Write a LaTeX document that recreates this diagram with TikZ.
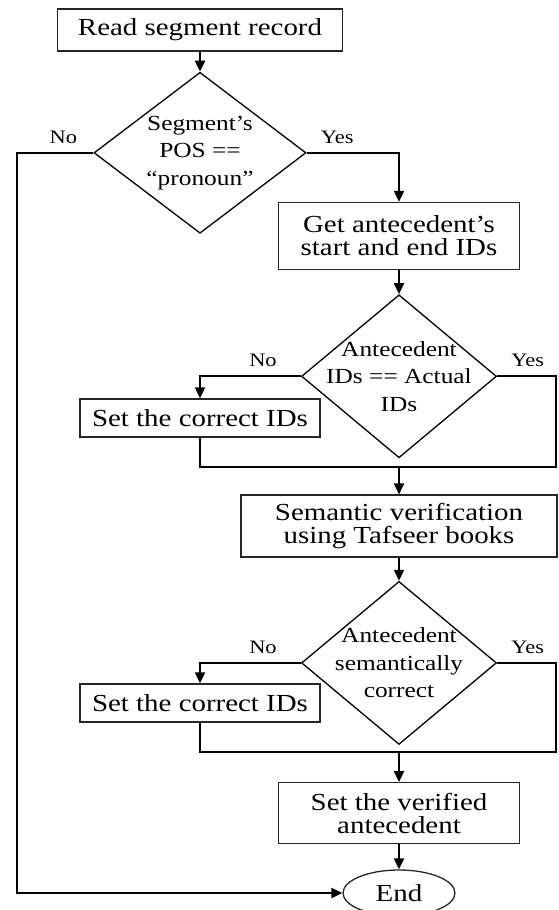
\documentclass[tikz,border=0pt]{standalone}
\usepackage{fontspec}
\setmainfont{Liberation Serif}
\newfontfamily\flowfont[FakeStretch=1.18]{Liberation Serif}
\usetikzlibrary{positioning}
\usetikzlibrary{shapes.geometric}
\usetikzlibrary{arrows.meta}

\begin{document}
\begin{tikzpicture}[x=1pt,y=1pt,align=center,
  cnode/.style={rectangle,draw=black!85,line width=1.3pt,inner sep=0pt,font=\flowfont\fontsize{24.5}{23}\selectfont},
  dnode/.style={diamond,draw=black,line width=1.3pt,inner sep=-12pt,shape aspect=1.2,minimum width=195pt,minimum height=163pt,font=\flowfont\fontsize{21.5}{27.5}\selectfont},
  enode/.style={ellipse,draw=black!85,line width=1.3pt,inner sep=0pt,minimum width=112pt,minimum height=46pt,font=\flowfont\fontsize{24.5}{23}\selectfont},
  lbl/.style={inner sep=0pt,font=\flowfont\fontsize{19}{19}\selectfont},
  flow/.style={line width=2pt},
  arr/.style={flow,-{Triangle[length=11pt,width=10pt]}}]
		\useasboundingbox (0,0) rectangle (558,-910);
		\node[cnode,minimum width=285pt,minimum height=42pt] (read) at (200,-30) {Read segment record};
		\node[dnode,minimum width=212pt,minimum height=161pt,below=20pt of read] (pos) {Segment’s\\POS ==\\“pronoun”};
		\node[cnode,minimum width=241pt,minimum height=67pt] (getids) at (399,-236) {Get antecedent’s\\start and end IDs};
		\node[dnode,below=24pt of getids] (idchk) {Antecedent\\IDs == Actual\\IDs};
		\node[cnode,minimum width=240pt,minimum height=38pt] (setids1) at (200,-418) {Set the correct IDs};
		\node[cnode,minimum width=316pt,minimum height=62pt,below=36pt of idchk] (semver) {Semantic verification\\using Tafseer books};
		\node[dnode,below=23pt of semver] (semchk) {Antecedent\\semantically\\correct};
		\node[cnode,minimum width=240pt,minimum height=38pt] (setids2) at (200,-703) {Set the correct IDs};
		\node[cnode,minimum width=241pt,minimum height=61pt,below=37pt of semchk] (setver) {Set the verified\\antecedent};
		\node[enode,below=25pt of setver] (stop) {End};
		% branch labels
		\node[lbl,above left=9pt and 16pt of pos.west] (no1) {No};
		\node[lbl,above right=9pt and 14pt of pos.east] (yes1) {Yes};
		\node[lbl,above left=9pt and 24pt of idchk.west] (no2) {No};
		\node[lbl,above right=9pt and 14pt of idchk.east] (yes2) {Yes};
		\node[lbl,above left=9pt and 24pt of semchk.west] (no3) {No};
		\node[lbl,above right=9pt and 14pt of semchk.east] (yes3) {Yes};
		\coordinate (farleft) at (17,0);
		\coordinate (farright) at (556,0);
		\coordinate[below=29pt of setids1.south] (join1);
		\coordinate[below=29pt of setids2.south] (join2);
		\draw[arr] (read) -- (pos);
		\draw[arr] (pos.east) -| (getids.north);
		\draw[arr] (pos.west) -| (farleft |- stop.west) -- (stop.west);
		\draw[arr] (getids) -- (idchk);
		\draw[arr] (idchk.west) -| (setids1.north);
		\draw[flow] (idchk.east) -| (farright |- join1) -- (join1) -- (setids1.south);
		\draw[arr] (join1 -| semver.north) -- (semver.north);
		\draw[arr] (semver) -- (semchk);
		\draw[arr] (semchk.west) -| (setids2.north);
		\draw[flow] (semchk.east) -| (farright |- join2) -- (join2) -- (setids2.south);
		\draw[arr] (join2 -| setver.north) -- (setver.north);
		\draw[arr] (setver) -- (stop);
	\end{tikzpicture}
\end{document}
